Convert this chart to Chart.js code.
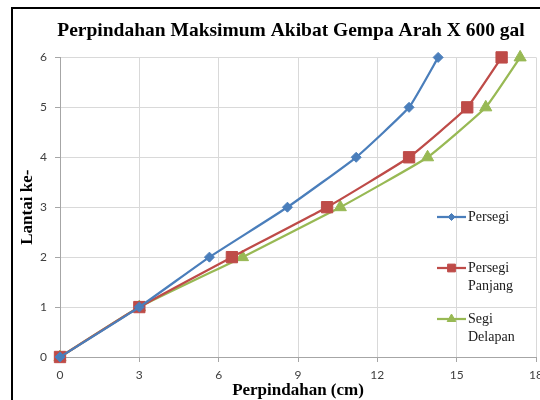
<!DOCTYPE html>
<html>
<head>
<meta charset="utf-8">
<script src="https://cdn.jsdelivr.net/npm/chart.js@4.4.1/dist/chart.umd.min.js"></script>
<style>
  html, body { margin: 0; padding: 0; background: #fff; overflow: hidden; width: 540px; height: 400px; }
  #wrap { position: absolute; left: 0; top: 0; width: 540px; height: 400px; overflow: hidden; }
  #frame { position: absolute; left: 11px; top: 7px; width: 700px; height: 700px; border-left: 2px solid #000; border-top: 2px solid #000; pointer-events: none; }
  canvas { position: absolute; left: 0; top: 0; }
</style>
</head>
<body>
<div id="wrap">
  <canvas id="c" width="560" height="400" style="width:560px;height:400px"></canvas>
  <div id="frame"></div>
</div>
<script>
const titleText = "Perpindahan Maksimum Akibat Gempa Arah X 600 gal";
const xAxisTitle = "Perpindahan (cm)";
const yAxisTitle = "Lantai ke-";
const floors = [0, 1, 2, 3, 4, 5, 6];
const persegi = [0, 3.0, 5.65, 8.6, 11.2, 13.2, 14.3];
const persegiPanjang = [0, 3.0, 6.5, 10.1, 13.2, 15.4, 16.7];
const segiDelapan = [0, 3.0, 6.9, 10.6, 13.9, 16.1, 17.4];
const seriesNames = [["Persegi"], ["Persegi", "Panjang"], ["Segi", "Delapan"]];
const xTicks = [0, 3, 6, 9, 12, 15, 18];
const yTicks = [0, 1, 2, 3, 4, 5, 6];

const colors = ["#4A7EBB", "#BE4B48", "#98B954"];
const styles = ["rectRot", "rect", "triangle"];
const radii = [5, 8, 7];
const legendRadii = [3.5, 5.5, 5];

function pts(xs) { return xs.map((x, i) => ({ x: x, y: floors[i] })); }
const seriesVals = [persegi, persegiPanjang, segiDelapan];

const datasets = seriesVals.map((vals, i) => ({
  label: seriesNames[i].join(" "),
  data: pts(vals),
  showLine: true,
  borderColor: colors[i],
  backgroundColor: colors[i],
  borderWidth: 2.25,
  pointStyle: styles[i],
  pointRadius: radii[i],
  pointHoverRadius: radii[i],
  pointBorderWidth: 1,
  pointBorderColor: colors[i],
  pointBackgroundColor: colors[i],
  tension: 0.12,
  clip: false
}));

const titleShift = {
  id: 'titleShift',
  afterLayout(chart) {
    const t = chart.titleBlock;
    if (t) { t.left += 16; t.right += 16; }
  }
};

const legendPlugin = {
  id: 'overlayLegend',
  afterDraw(chart) {
    const ctx = chart.ctx;
    const ys = [217, 268, 319];
    const x0 = 437, x1 = 466, tx = 468;
    ctx.save();
    ctx.font = '14px "Liberation Serif", "Times New Roman", serif';
    ctx.textBaseline = 'middle';
    ctx.textAlign = 'left';
    seriesNames.forEach((lines, i) => {
      const y = ys[i];
      ctx.strokeStyle = colors[i];
      ctx.lineWidth = 2.25;
      ctx.beginPath(); ctx.moveTo(x0, y); ctx.lineTo(x1, y); ctx.stroke();
      ctx.fillStyle = colors[i];
      ctx.strokeStyle = colors[i];
      ctx.lineWidth = 1;
      Chart.helpers.drawPoint(ctx, { pointStyle: styles[i], radius: legendRadii[i], borderWidth: 1 }, (x0 + x1) / 2, y);
      ctx.fillStyle = '#1a1a1a';
      lines.forEach((t, k) => ctx.fillText(t, tx, y + k * 18));
    });
    ctx.restore();
  }
};

new Chart(document.getElementById('c'), {
  type: 'scatter',
  data: { datasets },
  plugins: [titleShift, legendPlugin],
  options: {
    responsive: false,
    animation: false,
    devicePixelRatio: 1,
    layout: { padding: { left: 14, top: 9, right: 24, bottom: 0 } },
    plugins: {
      legend: { display: false },
      tooltip: { enabled: false },
      title: {
        display: true,
        text: titleText,
        color: '#000',
        font: { family: '"Liberation Serif", "Times New Roman", serif', size: 19.5, weight: 'bold' },
        padding: { top: 10, bottom: 15 }
      }
    },
    scales: {
      x: {
        type: 'linear',
        min: 0, max: 18,
        afterBuildTicks(scale) { scale.ticks = xTicks.map(v => ({ value: v })); },
        afterFit(scale) { scale.height = 43; },
        grid: { color: '#D9D9D9', lineWidth: 1, tickLength: 5, tickColor: '#A6A6A6' },
        border: { color: '#A6A6A6', width: 1 },
        ticks: { color: '#404040', padding: 6, maxRotation: 0, font: { family: 'Lato, "Liberation Sans", sans-serif', size: 12 } },
        title: {
          display: true, text: xAxisTitle, color: '#000',
          padding: { top: 0, bottom: -1 },
          font: { family: '"Liberation Serif", "Times New Roman", serif', size: 17, weight: 'bold' }
        }
      },
      y: {
        type: 'linear',
        min: 0, max: 6,
        afterBuildTicks(scale) { scale.ticks = yTicks.map(v => ({ value: v })); },
        afterFit(scale) { scale.width = 46; },
        grid: { color: '#D9D9D9', lineWidth: 1, tickLength: 5, tickColor: '#A6A6A6' },
        border: { color: '#A6A6A6', width: 1 },
        ticks: { color: '#404040', padding: 8, font: { family: 'Lato, "Liberation Sans", sans-serif', size: 12 } },
        title: {
          display: true, text: yAxisTitle, color: '#000',
          padding: { top: 3, bottom: 3 },
          font: { family: '"Liberation Serif", "Times New Roman", serif', size: 17, weight: 'bold' }
        }
      }
    }
  }
});
</script>
</body>
</html>
